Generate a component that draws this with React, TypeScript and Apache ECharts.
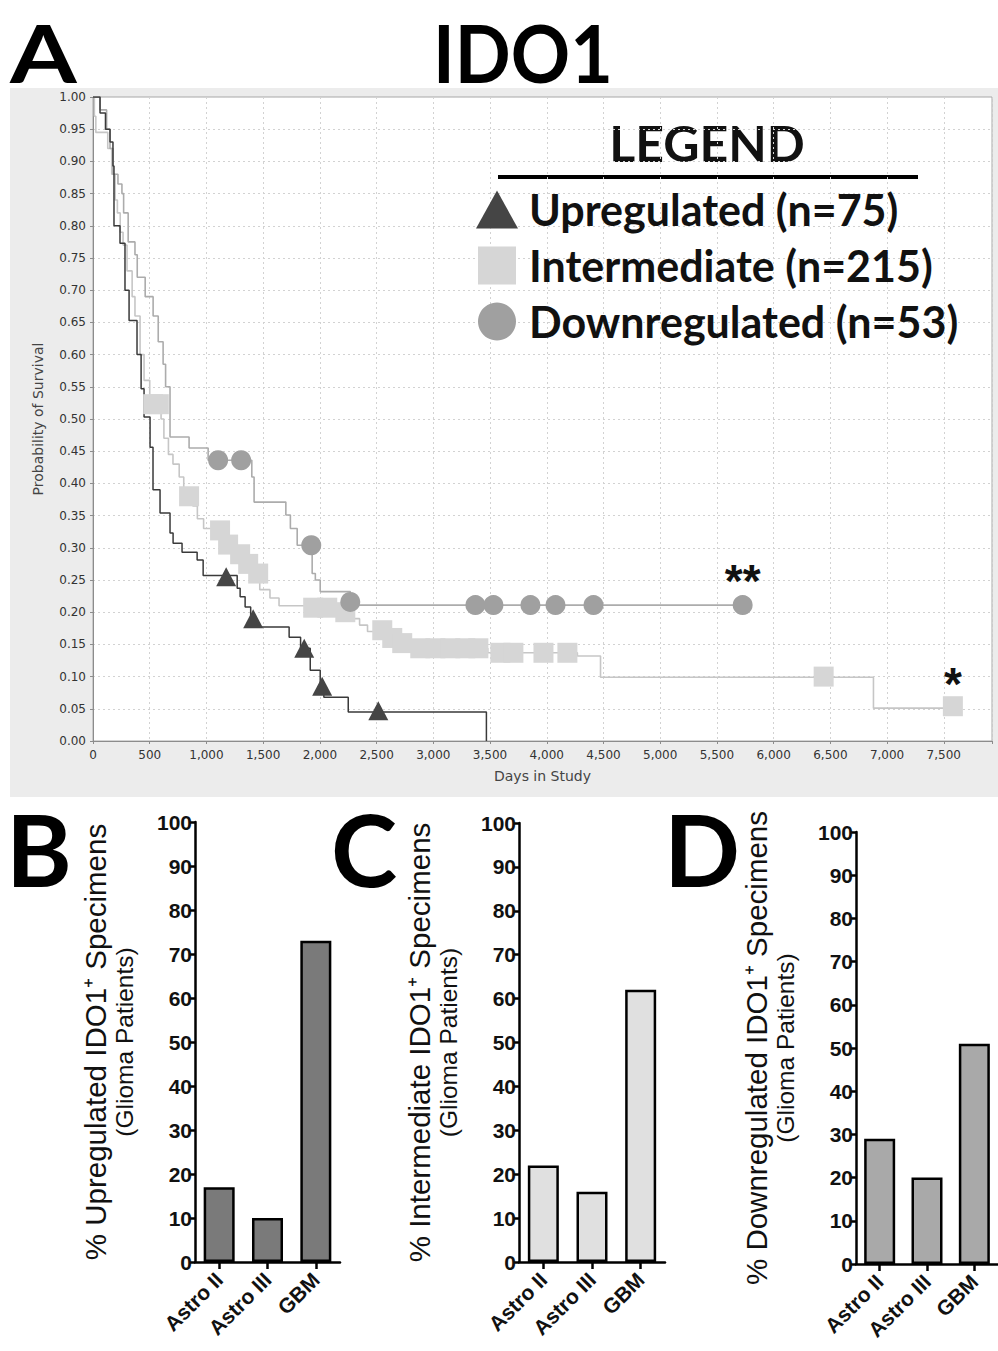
import React, { useEffect, useRef } from 'react';
import * as echarts from 'echarts';

// ---------- Panel A: Kaplan-Meier data (day, survival probability) ----------
const upregulatedCurve: [number, number][] = [
  [0, 1.0], [62, 0.975], [110, 0.95], [150, 0.93], [176, 0.893], [185, 0.8], [238, 0.773],
  [282, 0.7], [318, 0.653], [388, 0.6], [424, 0.547], [450, 0.503], [503, 0.456], [529, 0.39],
  [591, 0.354], [679, 0.323], [706, 0.307], [785, 0.293], [918, 0.281], [971, 0.257],
  [1271, 0.237], [1297, 0.224], [1341, 0.208], [1390, 0.177], [1729, 0.161], [1830, 0.144],
  [1915, 0.11], [2003, 0.085], [2035, 0.068], [2250, 0.045], [3468, 0.0],
];
const upregulatedCensored: [number, number][] = [
  [1174, 0.255], [1412, 0.19], [1862, 0.144], [2020, 0.085], [2515, 0.047],
];

const intermediateCurve: [number, number][] = [
  [0, 1.0], [12, 0.97], [25, 0.945], [130, 0.92], [165, 0.88], [195, 0.84], [215, 0.82],
  [240, 0.79], [265, 0.77], [300, 0.73], [345, 0.69], [370, 0.66], [415, 0.6], [450, 0.56],
  [500, 0.523], [600, 0.5], [625, 0.47], [665, 0.445], [705, 0.43], [760, 0.41], [800, 0.39],
  [880, 0.365], [920, 0.345], [975, 0.33], [1080, 0.315], [1190, 0.3], [1260, 0.285],
  [1310, 0.27], [1390, 0.255], [1470, 0.235], [1560, 0.222], [1640, 0.21], [2140, 0.195],
  [2250, 0.19], [2350, 0.18], [2420, 0.17], [2580, 0.16], [2660, 0.152], [2780, 0.144],
  [3480, 0.137], [4270, 0.132], [4474, 0.099], [6880, 0.051], [7580, 0.051],
];
const intermediateCensored: [number, number][] = [
  [530, 0.523], [580, 0.523], [847, 0.38], [1120, 0.327], [1191, 0.305], [1297, 0.29],
  [1368, 0.275], [1456, 0.26], [1941, 0.207], [2065, 0.207], [2224, 0.2], [2550, 0.172],
  [2638, 0.16], [2726, 0.152], [2885, 0.144], [3018, 0.144], [3150, 0.144], [3282, 0.144],
  [3397, 0.144], [3591, 0.137], [3706, 0.137], [3971, 0.137], [4182, 0.137], [6441, 0.1],
  [7580, 0.054],
];

const downregulatedCurve: [number, number][] = [
  [0, 1.0], [62, 0.98], [120, 0.95], [150, 0.92], [176, 0.88], [220, 0.865], [255, 0.85],
  [270, 0.82], [310, 0.775], [370, 0.755], [390, 0.72], [460, 0.69], [530, 0.66], [575, 0.62],
  [618, 0.585], [640, 0.55], [679, 0.472], [847, 0.455], [1015, 0.436], [1400, 0.41],
  [1420, 0.371], [1700, 0.351], [1740, 0.33], [1800, 0.304], [1932, 0.26], [1960, 0.25],
  [2003, 0.232], [2268, 0.211], [5727, 0.211],
];
const downregulatedCensored: [number, number][] = [
  [1103, 0.436], [1306, 0.436], [1924, 0.304], [2268, 0.216], [3371, 0.211], [3530, 0.211],
  [3856, 0.211], [4077, 0.211], [4412, 0.211], [5727, 0.211],
];

const legendNames = ['Upregulated (n=75)', 'Intermediate (n=215)', 'Downregulated (n=53)'];

// ---------- Panels B, C, D: bar data ----------
const gradeCategories = ['Astro II', 'Astro III', 'GBM'];
const upregulatedPct = [17, 10, 73];
const intermediatePct = [22, 16, 62];
const downregulatedPct = [29, 20, 51];

const barTitles = [
  '% Upregulated IDO1⁺ Specimens',
  '% Intermediate IDO1⁺ Specimens',
  '% Downregulated IDO1⁺ Specimens',
];
const barSubtitle = '(Glioma Patients)';

export default function App() {
  const ref = useRef<HTMLDivElement>(null);

  useEffect(() => {
    if (!ref.current) return;
    const chart = echarts.init(ref.current, undefined, { renderer: 'svg' });

    const kmLabel = { fontFamily: 'DejaVu Sans', fontSize: 12, color: '#333' };
    const dashed = { show: true, lineStyle: { color: '#d2d2d2', type: [2, 3] as any, width: 1 } };

    const barGrids = [
      { left: 195, width: 145, top: 822, bottom: 89 },
      { left: 519, width: 146, top: 823, bottom: 89 },
      { left: 856, width: 142, top: 832, bottom: 87 },
    ];
    const barData = [upregulatedPct, intermediatePct, downregulatedPct];
    const barColors = ['#7a7a7a', '#e0e0e0', '#a9a9a9'];

    const starLabel = (txt: string, dy: number) => ({
      show: true,
      formatter: txt,
      position: 'inside',
      offset: [0, dy],
      fontFamily: 'Liberation Sans',
      fontWeight: 'bold',
      fontSize: 46,
      color: '#111',
    });

    const option: any = {
      animation: false,
      backgroundColor: '#ffffff',
      grid: [
        { left: 93, top: 97, right: 6, bottom: 610, show: true, backgroundColor: '#ffffff', borderColor: '#a8a8a8', borderWidth: 1 },
        ...barGrids,
      ],
      legend: {
        left: 471,
        top: 183,
        orient: 'vertical',
        itemWidth: 42,
        itemHeight: 38,
        itemGap: 13,
        selectedMode: false,
        textStyle: { fontFamily: 'Lato', fontWeight: 'bold', fontSize: 43, color: '#111', lineHeight: 38, padding: [0, 0, 0, 6] },
        data: [
          { name: legendNames[0], icon: 'triangle', itemStyle: { color: '#454545' } },
          { name: legendNames[1], icon: 'path://M0,0L10,0L10,10L0,10Z', itemStyle: { color: '#d6d6d6' } },
          { name: legendNames[2], icon: 'circle', itemStyle: { color: '#a0a0a0' } },
        ],
      },
      xAxis: [
        {
          type: 'value', gridIndex: 0, min: 0, max: 7925, interval: 500,
          axisLine: { show: true, lineStyle: { color: '#8c8c8c' } },
          axisTick: { show: true, length: 3, lineStyle: { color: '#8c8c8c' } },
          axisLabel: {
            ...kmLabel, margin: 8,
            formatter: (v: number) => (v % 500 === 0 ? v.toLocaleString('en-US') : ''),
          },
          splitLine: dashed,
          name: 'Days in Study', nameLocation: 'middle', nameGap: 28,
          nameTextStyle: { fontFamily: 'DejaVu Sans', fontSize: 14, color: '#444' },
        },
        ...barGrids.map((_, i) => ({
          type: 'category', gridIndex: i + 1, data: gradeCategories,
          axisLine: { show: true, lineStyle: { color: '#000', width: 2.5 } },
          axisTick: { show: true, alignWithLabel: true, length: 7, lineStyle: { color: '#000', width: 2.5 } },
          axisLabel: { rotate: 45, fontFamily: 'Liberation Sans', fontWeight: 'bold', fontSize: 21, color: '#111', margin: 14, interval: 0 },
          splitLine: { show: false },
        })),
      ],
      yAxis: [
        {
          type: 'value', gridIndex: 0, min: 0, max: 1, interval: 0.05,
          axisLine: { show: true, lineStyle: { color: '#8c8c8c' } },
          axisTick: { show: true, length: 3, lineStyle: { color: '#8c8c8c' } },
          axisLabel: { ...kmLabel, margin: 7, formatter: (v: number) => v.toFixed(2) },
          splitLine: dashed,
          name: 'Probability of Survival', nameLocation: 'middle', nameGap: 48, nameRotate: 90,
          nameTextStyle: { fontFamily: 'DejaVu Sans', fontSize: 14, color: '#444' },
        },
        ...barGrids.map((_, i) => ({
          type: 'value', gridIndex: i + 1, min: 0, max: 100, interval: 10,
          axisLine: { show: true, lineStyle: { color: '#000', width: 2.5 } },
          axisTick: { show: true, length: 6, lineStyle: { color: '#000', width: 2.5 } },
          axisLabel: { fontFamily: 'Liberation Sans', fontWeight: 'bold', fontSize: 21, color: '#111', margin: 3 },
          splitLine: { show: false },
          name: `{a|${barTitles[i]}}\n{b|${barSubtitle}}`,
          nameLocation: 'middle', nameRotate: 90, nameGap: 57,
          nameTextStyle: {
            align: 'center',
            rich: {
              a: { fontFamily: 'Liberation Sans', fontSize: 29.5, lineHeight: 29, color: '#111', align: 'center' },
              b: { fontFamily: 'Liberation Sans', fontSize: 24.5, lineHeight: 28, color: '#111', align: 'center' },
            },
          },
        })),
      ],
      series: [
        {
          name: 'intermediate-curve', type: 'line', step: 'end', xAxisIndex: 0, yAxisIndex: 0,
          data: intermediateCurve, showSymbol: false, lineStyle: { color: '#c6c6c6', width: 1.6 },
          itemStyle: { color: '#c6c6c6' }, z: 2,
        },
        {
          name: 'downregulated-curve', type: 'line', step: 'end', xAxisIndex: 0, yAxisIndex: 0,
          data: downregulatedCurve, showSymbol: false, lineStyle: { color: '#acacac', width: 1.6 },
          itemStyle: { color: '#acacac' }, z: 2,
        },
        {
          name: 'upregulated-curve', type: 'line', step: 'end', xAxisIndex: 0, yAxisIndex: 0,
          data: upregulatedCurve, showSymbol: false, lineStyle: { color: '#3a3a3a', width: 1.5 },
          itemStyle: { color: '#3a3a3a' }, z: 2,
        },
        {
          name: legendNames[1], type: 'scatter', xAxisIndex: 0, yAxisIndex: 0, symbol: 'rect', symbolSize: 20,
          itemStyle: { color: '#d6d6d6', opacity: 1 }, z: 3,
          data: intermediateCensored.map((p, i) =>
            i === intermediateCensored.length - 1 ? { value: p, label: starLabel('*', -22) } : p),
        },
        {
          name: legendNames[2], type: 'scatter', xAxisIndex: 0, yAxisIndex: 0, symbol: 'circle', symbolSize: 20,
          itemStyle: { color: '#a0a0a0', opacity: 1 }, z: 4,
          data: downregulatedCensored.map((p, i) =>
            i === downregulatedCensored.length - 1 ? { value: p, label: starLabel('**', -24) } : p),
        },
        {
          name: legendNames[0], type: 'scatter', xAxisIndex: 0, yAxisIndex: 0, symbol: 'triangle', symbolSize: [20, 19],
          itemStyle: { color: '#454545', opacity: 1 }, z: 5, data: upregulatedCensored,
        },
        ...barData.map((d, i) => ({
          name: `bars-${i}`, type: 'bar', xAxisIndex: i + 1, yAxisIndex: i + 1, data: d, barWidth: 31,
          itemStyle: { color: barColors[i], borderColor: '#000', borderWidth: 2.5 },
        })),
      ],
      graphic: [
        { type: 'rect', z: -10, shape: { x: 10, y: 88, width: 988, height: 709 }, style: { fill: '#ececec' }, silent: true },
        { type: 'text', x: 10, y: 52, scaleX: 1.2, style: { text: 'A', font: 'bold 80px Lato', lineHeight: 64, fill: '#000', align: 'left', verticalAlign: 'middle' } },
        { type: 'text', x: 523, y: 52, scaleX: 0.92, style: { text: 'IDO1', font: 'bold 80px Lato', lineHeight: 64, fill: '#000', align: 'center', verticalAlign: 'middle' } },
        { type: 'text', x: 707, y: 143, style: { text: 'LEGEND', font: 'bold 50px Lato', fill: '#111', align: 'center', verticalAlign: 'middle' } },
        { type: 'rect', shape: { x: 498, y: 175, width: 420, height: 4 }, style: { fill: '#000' } },
        { type: 'text', x: 6, y: 848, style: { text: 'B', font: 'bold 100px Lato', fill: '#000', align: 'left', verticalAlign: 'middle' } },
        { type: 'text', x: 331, y: 848, style: { text: 'C', font: 'bold 100px Lato', fill: '#000', align: 'left', verticalAlign: 'middle' } },
        { type: 'text', x: 664, y: 848, style: { text: 'D', font: 'bold 100px Lato', fill: '#000', align: 'left', verticalAlign: 'middle' } },
      ],
    };

    chart.setOption(option);
    return () => chart.dispose();
  }, []);

  return (
    <div
      ref={ref}
      style={{ position: 'absolute', left: 0, top: 0, width: 998, height: 1351, background: '#fff' }}
    />
  );
}
